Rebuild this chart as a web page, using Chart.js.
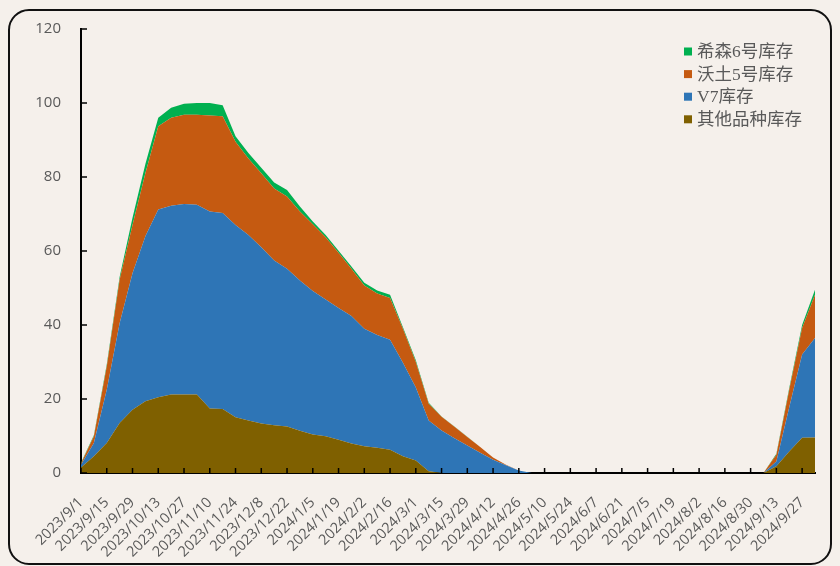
<!DOCTYPE html>
<html><head><meta charset="utf-8">
<script src="https://cdn.jsdelivr.net/npm/chart.js@4.4.0/dist/chart.umd.min.js"></script>
<style>html,body{margin:0;padding:0;background:#f5f0eb;}canvas{display:block}</style>
</head><body>
<canvas id="c" width="840" height="566"></canvas>
<script>
const categories = [
 "2023/9/1","2023/9/8","2023/9/15","2023/9/22","2023/9/29","2023/10/6","2023/10/13","2023/10/20","2023/10/27",
 "2023/11/3","2023/11/10","2023/11/17","2023/11/24","2023/12/1","2023/12/8","2023/12/15","2023/12/22","2023/12/29",
 "2024/1/5","2024/1/12","2024/1/19","2024/1/26","2024/2/2","2024/2/9","2024/2/16","2024/2/23","2024/3/1","2024/3/8",
 "2024/3/15","2024/3/22","2024/3/29","2024/4/5","2024/4/12","2024/4/19","2024/4/26","2024/5/3","2024/5/10","2024/5/17",
 "2024/5/24","2024/5/31","2024/6/7","2024/6/14","2024/6/21","2024/6/28","2024/7/5","2024/7/12","2024/7/19","2024/7/26",
 "2024/8/2","2024/8/9","2024/8/16","2024/8/23","2024/8/30","2024/9/6","2024/9/13","2024/9/20","2024/9/27","2024/10/4"
];
// 其他品种库存
const otherStock = [1.5,4.5,8.1,13.5,17.1,19.4,20.5,21.2,21.2,21.2,17.4,17.3,15.1,14.2,13.4,12.9,12.6,11.4,10.4,9.9,
 9.0,8.0,7.2,6.8,6.3,4.5,3.4,0.5,0,0,0,0,0,0,0,0,0,0,0,0,0,0,0,0,0,0,0,0,0,0,0,0,0,0,1.8,5.8,9.5,9.6];
// V7库存
const v7Stock = [0.7,3.6,14.4,27.0,36.9,44.6,50.7,51.0,51.5,51.3,53.3,53.0,51.9,50.1,47.6,44.5,42.6,40.6,38.8,37.0,
 35.6,34.4,31.8,30.5,29.7,25.3,19.7,13.7,11.5,9.4,7.4,5.5,3.6,2.1,0.7,0,0,0,0,0,0,0,0,0,0,0,0,0,0,0,0,0,0,0,1.3,12.0,22.5,26.9];
// 沃土5号库存
const wotu5Stock = [0.4,1.8,6.3,11.7,13.0,17.0,22.5,23.8,24.1,24.3,25.9,26.1,22.5,20.7,20.0,19.5,19.5,18.7,18.0,16.8,
 14.9,12.8,11.7,11.2,11.3,9.2,6.9,4.5,3.7,3.1,2.3,1.5,0.6,0.1,0,0,0,0,0,0,0,0,0,0,0,0,0,0,0,0,0,0,0,0,1.8,4.7,7.2,11.7];
// 希森6号库存
const xisen6Stock = [0.2,0.3,0.5,0.8,2.0,2.5,2.3,2.7,3.0,3.2,3.4,3.0,1.5,1.5,1.5,1.6,1.8,1.3,0.8,0.6,
 0.6,0.6,0.7,0.8,0.9,0.4,0.5,0.3,0.1,0.1,0.1,0,0,0,0,0,0,0,0,0,0,0,0,0,0,0,0,0,0,0,0,0,0,0,0.3,0.5,0.8,1.3];
const seriesNames = ["其他品种库存","V7库存","沃土5号库存","希森6号库存"];
const yTicks = [0,20,40,60,80,100,120];

const colors = ["#7f6000","#2e75b6","#c55a11","#00b050"];
const seriesData = [otherStock, v7Stock, wotu5Stock, xisen6Stock];

const bgPlugin = {
  id:'bg',
  beforeDraw(chart){
    const ctx = chart.ctx;
    ctx.save();
    ctx.fillStyle = '#f5f0eb';
    ctx.fillRect(0,0,chart.width,chart.height);
    ctx.strokeStyle = '#111';
    ctx.lineWidth = 2;
    ctx.beginPath();
    if (ctx.roundRect) ctx.roundRect(9,10,822,554,20); else ctx.rect(9,10,822,554);
    ctx.stroke();
    ctx.restore();
  },
  afterDraw(chart){
    const ctx = chart.ctx;
    const xs = chart.scales.x, ys = chart.scales.y;
    const area = chart.chartArea;
    ctx.save();
    ctx.strokeStyle = '#000';
    ctx.lineWidth = 1.5;
    ctx.beginPath();
    for (let i = 0; i < categories.length; i += 2) {
      const px = xs.getPixelForValue(i);
      ctx.moveTo(px, area.bottom); ctx.lineTo(px, area.bottom - 5);
    }
    yTicks.forEach(v => {
      const py = ys.getPixelForValue(v);
      ctx.moveTo(area.left, py); ctx.lineTo(area.left + 6, py);
    });
    ctx.stroke();
    // legend
    const order = [3,2,1,0];
    ctx.font = '17.5px "Liberation Serif", "Noto Sans CJK SC", serif';
    ctx.textBaseline = 'middle';
    order.forEach((di, k) => {
      const ds = chart.data.datasets[di];
      const y = 51.5 + k * 22.6;
      ctx.fillStyle = ds.backgroundColor;
      ctx.fillRect(684, y - 4, 8, 8);
      ctx.fillStyle = '#595959';
      ctx.fillText(ds.label, 697, y + 1);
    });
    ctx.restore();
  }
};

new Chart(document.getElementById('c'), {
  type: 'line',
  data: {
    labels: categories,
    datasets: seriesData.map((d, i) => ({
      label: seriesNames[i],
      data: d,
      backgroundColor: colors[i],
      borderColor: colors[i],
      borderWidth: 0,
      pointRadius: 0,
      tension: 0,
      fill: i === 0 ? 'origin' : '-1'
    }))
  },
  options: {
    responsive: false,
    animation: false,
    devicePixelRatio: 1,
    layout: { padding: { left: 0, right: 25, top: 29, bottom: 0 } },
    plugins: { legend: { display: false }, tooltip: { enabled: false } },
    scales: {
      x: {
        offset: false,
        grid: { display: false, drawTicks: false },
        border: { display: true, color: '#000', width: 2 },
        afterFit(s){ s.height = 93; },
        ticks: {
          autoSkip: false, maxRotation: 45, minRotation: 45, padding: 21,
          color: '#595959', font: { family: '"Open Sans", sans-serif', size: 14.5 },
          callback(v, i){ return i % 2 === 0 ? categories[i] : null; }
        }
      },
      y: {
        stacked: true, min: 0, max: 120,
        grid: { display: false, drawTicks: false },
        border: { display: true, color: '#000', width: 2 },
        afterFit(s){ s.width = 81; },
        afterBuildTicks(s){ s.ticks = yTicks.map(v => ({ value: v })); },
        ticks: { padding: 20, color: '#595959', font: { family: '"Open Sans", sans-serif', size: 15 } }
      }
    }
  },
  plugins: [bgPlugin]
});
</script>
</body></html>
